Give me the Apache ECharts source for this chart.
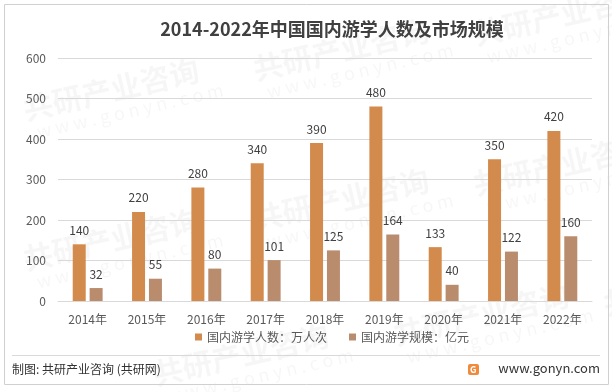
<!DOCTYPE html>
<html><head><meta charset="utf-8">
<script src="https://cdn.jsdelivr.net/npm/echarts@6/dist/echarts.min.js"></script>
<style>html,body{margin:0;padding:0;background:#fff}#c{width:612px;height:392px}</style>
</head><body><div id="c"></div>
<script>
const categories = ['2014年','2015年','2016年','2017年','2018年','2019年','2020年','2021年','2022年'];
const students = [140,220,280,340,390,480,133,350,420];
const scale = [32,55,80,101,125,164,40,122,160];
const seriesNames = ['国内游学人数：万人次','国内游学规模：亿元'];
const titleText = '2014-2022年中国国内游学人数及市场规模';
const sourceText = '制图: 共研产业咨询 (共研网)';
const siteText = 'www.gonyn.com';

const FF = '"Noto Sans CJK SC","Noto Sans",sans-serif';
const chart = echarts.init(document.getElementById('c'), null, {renderer:'canvas'});

const wm = [];
const wmPos = [[20,95],[250,55],[470,20],[20,245],[250,205],[470,170],[150,360],[390,320],[600,290]];
wmPos.forEach(p=>{
  wm.push({type:'text', x:p[0], y:p[1], rotation:Math.PI/14, z:-10, silent:true,
    style:{text:'共研产业咨询', fill:'rgba(0,0,0,0.035)', font:'bold 30px '+FF}});
  wm.push({type:'text', x:p[0]+15, y:p[1]+28, rotation:Math.PI/14, z:-10, silent:true,
    style:{text:'w w w . g o n y n . c o m', fill:'rgba(0,0,0,0.035)', font:'18px '+FF}});
});

chart.setOption({
  animation:false,
  title:{text:titleText, left:327, textAlign:'center', top:15,
    textStyle:{fontFamily:FF, fontSize:18, fontWeight:'bold', color:'#404040'}},
  legend:{bottom:44, left:190, itemWidth:7, itemHeight:7, itemGap:22, icon:'rect',
    textStyle:{fontFamily:FF, fontSize:12, color:'#595959'}},
  grid:{left:58, right:20, top:58, bottom:91},
  xAxis:{type:'category', data:categories,
    axisLine:{lineStyle:{color:'#d9d9d9'}}, axisTick:{show:false},
    axisLabel:{fontFamily:FF, fontSize:12, color:'#595959', margin:12}},
  yAxis:{type:'value', min:0, max:600, interval:100,
    axisLine:{show:false}, axisTick:{show:false},
    splitLine:{lineStyle:{color:'#d9d9d9'}},
    axisLabel:{fontFamily:FF, fontSize:12, color:'#595959', margin:12}},
  series:[
    {name:seriesNames[0], type:'bar', data:students, barWidth:13, barGap:'30%',
     itemStyle:{color:'#D38B4D'},
     label:{show:true, position:'top', distance:8, fontFamily:FF, fontSize:12, color:'#404040'}},
    {name:seriesNames[1], type:'bar', data:scale, barWidth:13,
     itemStyle:{color:'#BA8C6E'},
     label:{show:true, position:'top', distance:8, fontFamily:FF, fontSize:12, color:'#404040'}}
  ],
  graphic:[
    ...wm,
    {type:'rect', shape:{x:4.5,y:4.5,width:604,height:380}, style:{fill:'none', stroke:'#d0d0d0', lineWidth:1}, silent:true},
    {type:'line', shape:{x1:12,y1:355.5,x2:600,y2:355.5}, style:{stroke:'#d9d9d9', lineWidth:1}, silent:true},
    {type:'text', x:12, y:363, style:{text:sourceText, fill:'#333', font:'12px '+FF}},
    {type:'rect', shape:{x:468,y:364,width:11,height:11, r:2}, style:{fill:'#F08A3C'}},
    {type:'text', x:470, y:365, style:{text:'G', fill:'#fff', font:'bold 9px '+FF}},
    {type:'text', x:600, y:362, style:{text:siteText, fill:'#333', font:'13px '+FF, align:'right'}}
  ]
});
</script></body></html>
